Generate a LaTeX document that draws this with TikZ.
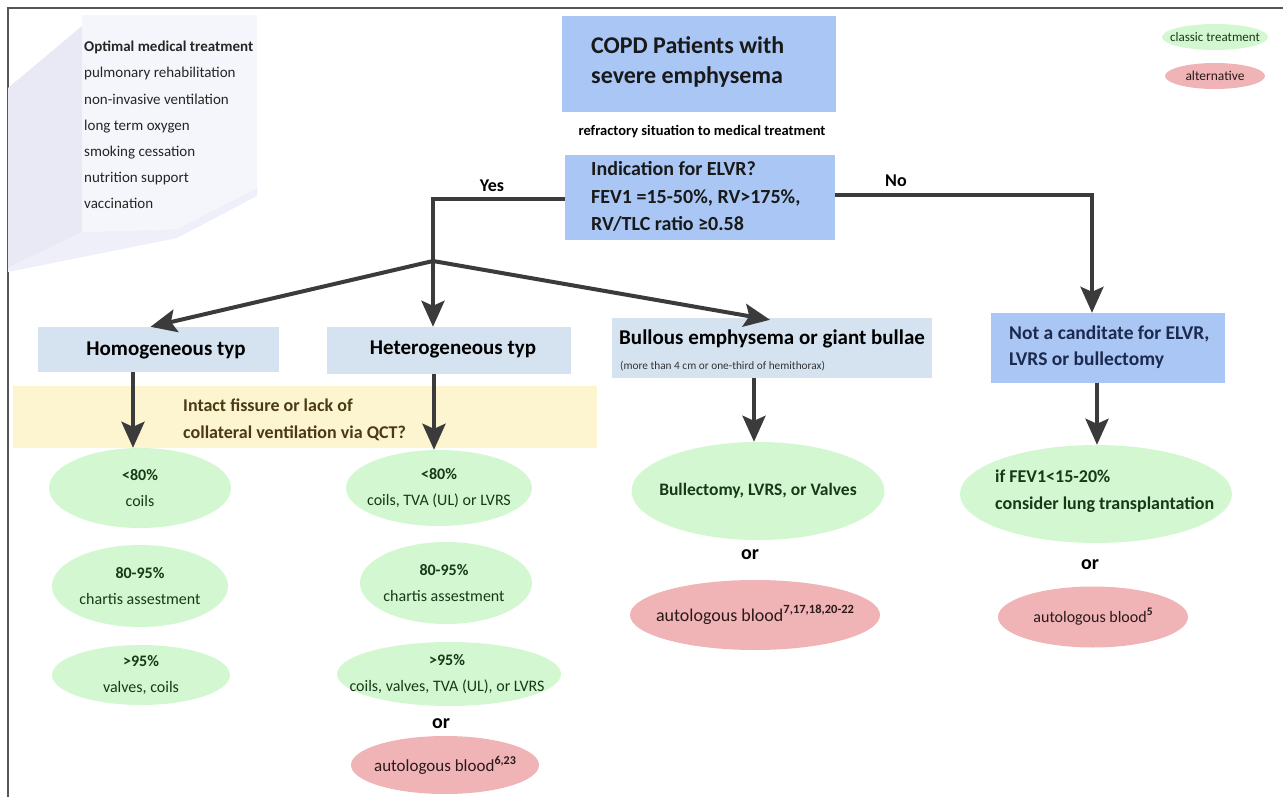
\documentclass[tikz,border=0pt]{standalone}
\usepackage{fontspec}
\setmainfont{Carlito}
\usetikzlibrary{arrows.meta,fit,shapes.geometric}
\definecolor{boxblue}{HTML}{A9C6F5}
\definecolor{typeblue}{HTML}{D5E3F1}
\definecolor{bandyellow}{HTML}{FDF5D0}
\definecolor{greenfill}{HTML}{D3F8D1}
\definecolor{redfill}{HTML}{F0B3B6}
\definecolor{arrowgray}{HTML}{3B3B3B}
\definecolor{navytext}{HTML}{1B2A4E}
\definecolor{greentext}{HTML}{183818}
\definecolor{redtext}{HTML}{2A1A1A}
\definecolor{yellowtext}{HTML}{4A3A14}
\definecolor{panelfront}{HTML}{F5F6FB}
\definecolor{panelside}{HTML}{E8E9F4}
\definecolor{panelbottom}{HTML}{EEEFF8}
\definecolor{framegray}{HTML}{555555}
\newcommand{\refsup}[2]{\raisebox{0.42em}{\fontsize{#1}{#1}\selectfont\bfseries #2}}
\tikzset{
  area/.style={inner sep=0pt, draw=none},
  conn/.style={line width=4pt, draw=arrowgray, line join=miter,
    -{Stealth[length=26pt,width=23pt,inset=5pt]}},
  plainline/.style={line width=3.2pt, draw=arrowgray},
  greenell/.style={ellipse, fill=greenfill, inner sep=0pt},
  redell/.style={ellipse, fill=redfill, inner sep=0pt},
  gtext/.style={inner sep=0pt, align=center, text=greentext, font=\fontsize{16}{26}\selectfont},
  rtext/.style={inner sep=0pt, align=center, text=redtext},
  ortext/.style={font=\fontsize{20}{24}\selectfont\bfseries, text=black},
}
\begin{document}
\begin{tikzpicture}[x=1pt,y=-1pt]
\useasboundingbox (0,0) rectangle (1283,797);
% frame
\draw[framegray, line width=1.2pt] (8,797) -- (8,8) -- (1283,8);

% left 3D panel
\fill[panelside] (8,88) -- (82,26) -- (82,232) -- (8,268) -- cycle;
\fill[panelbottom] (8,268) -- (82,232) -- (177,229) -- (257,188) -- (257,196) -- (177,238) -- (8,272) -- cycle;
\fill[panelfront] (82,15) -- (257,15) -- (257,188) -- (177,229) -- (82,232) -- cycle;
\node[anchor=west, align=left, inner sep=0pt, font=\fontsize{15}{26.2}\selectfont, text=black!85] (omt) at (84,125)
  {\textbf{Optimal medical treatment}\\pulmonary rehabilitation\\non-invasive ventilation\\long term oxygen\\smoking cessation\\nutrition support\\vaccination};

% legend
\node[greenell, minimum width=106pt, minimum height=26pt] (legA) at (1215,37) {};
\node[gtext, font=\fontsize{13}{15}\selectfont] (legAt) at (legA.center) {classic treatment};
\node[redell, minimum width=100pt, minimum height=26pt] (legB) at (1215,76) {};
\node[rtext, font=\fontsize{13.5}{15}\selectfont] (legBt) at (legB.center) {alternative};

% title
\node[area, fill=boxblue, fit={(562,16)(836,112)}] (title) {};
\node[anchor=west, align=left, inner sep=0pt, font=\fontsize{24}{30}\selectfont\bfseries, text=black!90] (titletext) at (591,62)
  {COPD Patients with\\severe emphysema};
\node[inner sep=0pt, font=\fontsize{14.5}{17}\selectfont\bfseries] (refr) at (702,132) {refractory situation to medical treatment};

% indication
\node[area, fill=boxblue, fit={(565,155)(835,240)}] (ind) {};
\node[anchor=west, align=left, inner sep=0pt, font=\fontsize{20}{27.5}\selectfont\bfseries, text=black!90] (indtext) at (591,196.5)
  {Indication for ELVR?\\FEV1 =15-50\%, RV>175\%,\\RV/TLC ratio ≥0.58};

\node[inner sep=0pt, font=\fontsize{18}{20}\selectfont\bfseries] (yes) at (492,186) {Yes};
\node[inner sep=0pt, font=\fontsize{18}{20}\selectfont\bfseries] (no) at (896,181) {No};

% type boxes
\node[area, fill=typeblue, fit={(38,327)(279,372)}] (homo) {};
\node[inner sep=0pt, font=\fontsize{21}{24}\selectfont\bfseries] (homotext) at (166,350) {Homogeneous typ};
\node[area, fill=typeblue, fit={(327,327)(571,374)}] (het) {};
\node[inner sep=0pt, font=\fontsize{21}{24}\selectfont\bfseries] (hettext) at (453,349) {Heterogeneous typ};
\node[area, fill=typeblue, fit={(612,318)(932,378)}] (bull) {};
\node[anchor=west, inner sep=0pt, font=\fontsize{21}{24}\selectfont\bfseries] (bulltext) at (619,339) {Bullous emphysema or giant bullae};
\node[anchor=west, inner sep=0pt, font=\fontsize{11.3}{14}\selectfont, text=black!80] (bullsub) at (620,366) {(more than 4 cm or one-third of hemithorax)};
\node[area, fill=boxblue, fit={(991,313)(1225,383)}] (notc) {};
\node[anchor=west, align=left, inner sep=0pt, font=\fontsize{19.5}{26}\selectfont\bfseries, text=navytext] (notctext) at (1009,347)
  {Not a canditate for ELVR,\\LVRS or bullectomy};

% yellow band
\node[area, fill=bandyellow, fit={(13,386)(597,448)}] (band) {};
\node[anchor=west, align=left, inner sep=0pt, font=\fontsize{18}{27}\selectfont\bfseries, text=yellowtext] (bandtext) at (183,419.5)
  {Intact fissure or lack of\\collateral ventilation via QCT?};

% homogeneous column
\node[greenell, minimum width=182pt, minimum height=80pt] (hA) at (140,488) {};
\node[gtext] (hAt) at (hA.center) {\textbf{<80\%}\\coils};
\node[greenell, minimum width=176pt, minimum height=82pt] (hB) at (140,586) {};
\node[gtext] (hBt) at (hB.center) {\textbf{80-95\%}\\chartis assestment};
\node[greenell, minimum width=178pt, minimum height=60pt] (hC) at (141,675) {};
\node[gtext] (hCt) at (hC.center) {\textbf{>95\%}\\valves, coils};

% heterogeneous column
\node[greenell, minimum width=186pt, minimum height=76pt] (mA) at (439,488) {};
\node[gtext] (mAt) at (mA.center) {\textbf{<80\%}\\coils, TVA (UL) or LVRS};
\node[greenell, minimum width=172pt, minimum height=82pt] (mB) at (446,583) {};
\node[gtext] (mBt) at ([xshift=-2pt]mB.center) {\textbf{80-95\%}\\chartis assestment};
\node[greenell, minimum width=224pt, minimum height=64pt] (mC) at (449,674) {};
\node[gtext] (mCt) at ([xshift=-2pt]mC.center) {\textbf{>95\%}\\coils, valves, TVA (UL), or LVRS};
\node[ortext] (mOr) at (441,724) {or};
\node[redell, minimum width=188pt, minimum height=58pt] (mR) at (445,765) {};
\node[rtext, font=\fontsize{17}{20}\selectfont] (mRt) at (mR.center) {autologous blood\refsup{12}{6,23}};

% bullous column
\node[greenell, minimum width=253pt, minimum height=98pt] (bA) at (758,491) {};
\node[gtext, font=\fontsize{17.5}{20}\selectfont\bfseries] (bAt) at (bA.center) {Bullectomy, LVRS, or Valves};
\node[ortext] (bOr) at (750,555) {or};
\node[redell, minimum width=250pt, minimum height=70pt] (bR) at (755,615) {};
\node[rtext, font=\fontsize{18}{20}\selectfont] (bRt) at (bR.center) {autologous blood\refsup{12.5}{7,17,18,20-22}};

% right column
\node[greenell, minimum width=272pt, minimum height=98pt] (rA) at (1096,494) {};
\node[anchor=west, align=left, inner sep=0pt, font=\fontsize{18}{27}\selectfont\bfseries, text=greentext] (rAtext) at (995,491.5)
  {if FEV1<15-20\%\\consider lung transplantation};
\node[ortext] (rOr) at (1090,565) {or};
\node[redell, minimum width=190pt, minimum height=61pt] (rR) at (1093,617) {};
\node[rtext, font=\fontsize{16}{20}\selectfont] (rRt) at (rR.center) {autologous blood\refsup{11.5}{5}};

% connectors
\coordinate (junc) at (433,261);
\draw[plainline] (ind.west |- 0,199) -- (junc |- 0,199) -- (junc);
\draw[conn] (junc) -- ([xshift=-8pt]homo.north);
\draw[conn] (junc) -- (het.north -| junc);
\draw[conn] (junc) -- ([xshift=-2pt,yshift=-2pt]bull.north);
\draw[conn, line width=3.6pt] (ind.east |- 0,195) -- (1092,195) -- (notc.north -| 1092,0);

\draw[conn] (homo.south -| 133,0) -- (hA.north -| 133,0);
\draw[conn] (het.south -| 434,0) -- (mA.north -| 434,0);
\draw[conn] (bull.south -| 754,0) -- (bA.north -| 754,0);
\draw[conn] (notc.south -| 1097,0) -- (rA.north -| 1097,0);
\end{tikzpicture}
\end{document}
